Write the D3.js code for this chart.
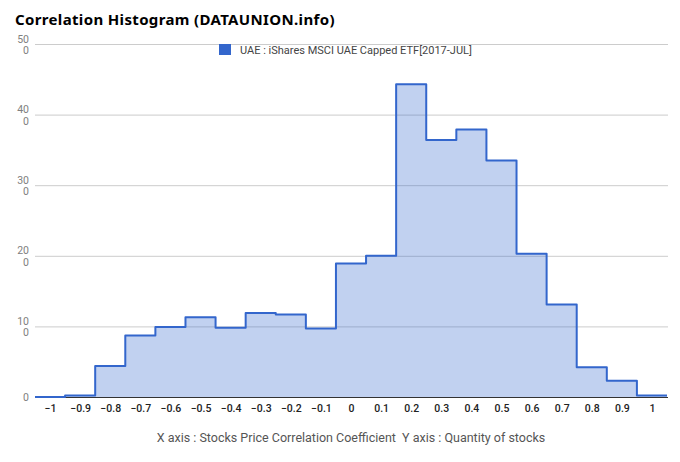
<!DOCTYPE html>
<html>
<head>
<meta charset="utf-8">
<script src="https://cdn.jsdelivr.net/npm/d3@7"></script>
<style>
  body { margin: 0; background: #fff; }
  svg { display: block; }
</style>
</head>
<body>
<svg width="680" height="462"></svg>
<script>
// bin centres and counts
var binCenters = [-1, -0.9, -0.8, -0.7, -0.6, -0.5, -0.4, -0.3, -0.2, -0.1,
                  0, 0.1, 0.2, 0.3, 0.4, 0.5, 0.6, 0.7, 0.8, 0.9, 1];
var counts = [0, 2, 44, 87, 99, 113, 98, 119, 117, 97,
              189, 200, 443, 364, 379, 335, 203, 131, 42, 23, 2];
var yTicks = [0, 100, 200, 300, 400, 500];
var xTicks = binCenters;
var seriesName = "UAE : iShares MSCI UAE Capped ETF[2017-JUL]";

var svg = d3.select("svg"),
    binW = 0.1;

var x = d3.scaleLinear()
    .domain([-1.05, 1.05])
    .range([35, 667]);

var y = d3.scaleLinear()
    .domain([0, 500])
    .range([397, 44]);

// gridlines
svg.append("g")
  .selectAll("line")
  .data(yTicks.slice(1))
  .join("line")
    .attr("x1", 35).attr("x2", 668)
    .attr("y1", function(d) { return y(d) + 0.5; })
    .attr("y2", function(d) { return y(d) + 0.5; })
    .attr("stroke", "#cccccc");

// y labels, wrapped like the original ("50" / "0")
var yl = svg.append("g")
    .attr("font-family", "Roboto, 'Noto Sans', sans-serif")
    .attr("font-size", 10.5)
    .attr("fill", "#808080")
    .attr("text-anchor", "end");

yTicks.forEach(function(t) {
  var s = String(t);
  if (s.length > 1) {
    yl.append("text").attr("x", 29).attr("y", y(t) - 1.5).text(s.slice(0, -1));
    yl.append("text").attr("x", 29).attr("y", y(t) + 10).text(s.slice(-1));
  } else {
    yl.append("text").attr("x", 29).attr("y", y(t) + 4).text(s);
  }
});

// step points on bin edges
var pts = binCenters.map(function(c, i) { return [c - binW / 2, counts[i]]; });
pts.push([binCenters[binCenters.length - 1] + binW / 2, counts[counts.length - 1]]);

var area = d3.area()
    .x(function(d) { return x(d[0]); })
    .y0(y(0))
    .y1(function(d) { return y(d[1]); })
    .curve(d3.curveStepAfter);

var line = d3.line()
    .x(function(d) { return x(d[0]); })
    .y(function(d) { return y(d[1]); })
    .curve(d3.curveStepAfter);

svg.append("path")
    .datum(pts)
    .attr("d", area)
    .attr("fill", "#3366cc")
    .attr("fill-opacity", 0.3);

// x axis baseline
svg.append("line")
    .attr("x1", 35).attr("x2", 668)
    .attr("y1", y(0) + 0.5).attr("y2", y(0) + 0.5)
    .attr("stroke", "#333");

svg.append("path")
    .datum(pts)
    .attr("d", line)
    .attr("fill", "none")
    .attr("stroke", "#3366cc")
    .attr("stroke-width", 2)
    .attr("stroke-linejoin", "round");

// x tick labels
var xAxis = d3.axisBottom(x)
    .tickValues(xTicks)
    .tickSize(0)
    .tickPadding(0)
    .tickFormat(d3.format(""));

svg.append("g")
    .attr("transform", "translate(0," + (y(0) + 15) + ")")
    .call(xAxis)
    .call(function(g) { g.select(".domain").remove(); })
    .selectAll("text")
      .attr("dy", 0)
      .attr("font-family", "Roboto, 'Noto Sans', sans-serif")
      .attr("font-size", 10.5)
      .attr("font-weight", 500)
      .attr("fill", "#222");

// title
svg.append("text")
    .attr("x", 15).attr("y", 25)
    .attr("font-family", "'Noto Sans', sans-serif")
    .attr("font-size", 15)
    .attr("font-weight", "bold")
    .attr("letter-spacing", 0.35)
    .attr("fill", "#000")
    .text("Correlation Histogram (DATAUNION.info)");

// legend
svg.append("rect")
    .attr("x", 219).attr("y", 44)
    .attr("width", 12).attr("height", 11)
    .attr("fill", "#3366cc");

svg.append("text")
    .attr("x", 240).attr("y", 54)
    .attr("font-family", "Roboto, sans-serif")
    .attr("font-size", 11)
    .attr("fill", "#444")
    .text(seriesName);

// axis title
svg.append("text")
    .attr("x", 351).attr("y", 442)
    .attr("text-anchor", "middle")
    .attr("font-family", "Roboto, sans-serif")
    .attr("font-size", 12.5)
    .attr("fill", "#555")
    .style("white-space", "pre")
    .text("X axis : Stocks Price Correlation Coefficient  Y axis : Quantity of stocks");
</script>
</body>
</html>
